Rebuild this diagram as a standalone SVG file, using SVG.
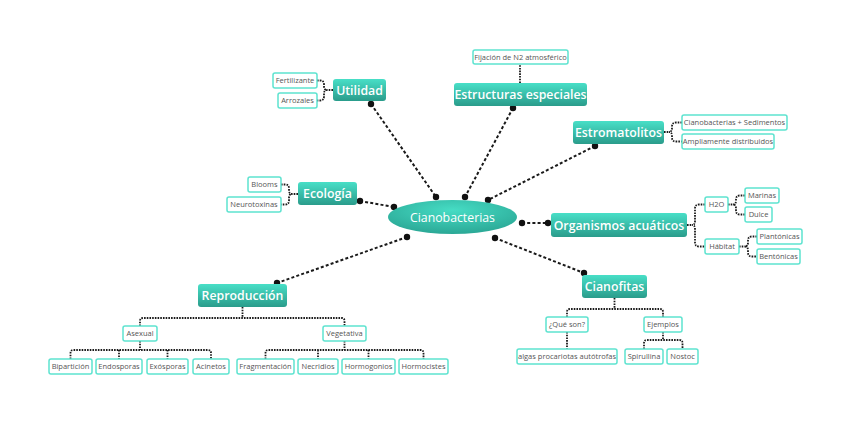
<svg xmlns="http://www.w3.org/2000/svg" width="848" height="424" viewBox="0 0 848 424">
<defs>
<linearGradient id="g" x1="0" y1="0" x2="0" y2="1">
<stop offset="0" stop-color="#48dfc7"/>
<stop offset="1" stop-color="#2a9c8b"/>
</linearGradient>
<radialGradient id="ge" cx="0.5" cy="0.3" r="0.7">
<stop offset="0" stop-color="#46dcc4"/>
<stop offset="1" stop-color="#2ba896"/>
</radialGradient>
</defs>
<style>
.m{fill:url(#g);}
.mt{font-family:"Open Sans","Noto Sans","Liberation Sans",sans-serif;font-size:12.3px;font-weight:600;fill:#fff;text-anchor:middle;}
.l{fill:#fff;stroke:#5ee3d0;stroke-width:1.5;}
.lt{font-family:"Open Sans","Noto Sans","Liberation Sans",sans-serif;font-size:7.5px;fill:#555;text-anchor:middle;}
.c{fill:none;stroke:#1a1a1a;stroke-width:2;stroke-dasharray:3 2.2;}
.t{fill:none;stroke:#1a1a1a;stroke-width:1.8;stroke-dasharray:1.6 1.1;}
.d{fill:#111;}
</style>
<rect width="848" height="424" fill="#fff"/>
<g id="connectors">
<path class="c" d="M371,104 L436,197"/>
<path class="c" d="M513,108 L465,197"/>
<path class="c" d="M595,146 L488,200"/>
<path class="c" d="M360,201 L394,207"/>
<path class="c" d="M522,223 L548,223"/>
<path class="c" d="M495,238 L584,273"/>
<path class="c" d="M407,237 L277,283"/>
<circle class="d" cx="371" cy="104" r="3.2"/><circle class="d" cx="436" cy="197" r="3.2"/>
<circle class="d" cx="513" cy="108" r="3.2"/><circle class="d" cx="465" cy="197" r="3.2"/>
<circle class="d" cx="595" cy="146" r="3.2"/><circle class="d" cx="488" cy="200" r="3.2"/>
<circle class="d" cx="360" cy="201" r="3.2"/><circle class="d" cx="394" cy="207" r="3.2"/>
<circle class="d" cx="522" cy="223" r="3.2"/><circle class="d" cx="548" cy="223" r="3.2"/>
<circle class="d" cx="495" cy="238" r="3.2"/><circle class="d" cx="584" cy="273" r="3.2"/>
<circle class="d" cx="407" cy="237" r="3.2"/><circle class="d" cx="277" cy="283" r="3.2"/>
<path class="t" d="M333,90 H327 M317,80.5 H320 Q324,80.5 324,84.5 V86 Q324,90 327,90 Q324,90 324,94 V96.5 Q324,100.5 320,100.5 H317"/>
<path class="t" d="M298,194 H292 M281,184.5 H285 Q289,184.5 289,188.5 V190 Q289,194 292,194 Q289,194 289,198 V200.5 Q289,204.5 285,204.5 H281"/>
<path class="t" d="M520,83 V64"/>
<path class="t" d="M664,132 H669 M682,122.5 H676 Q672,122.5 672,126.5 V128 Q672,132 669,132 Q672,132 672,136 V137.5 Q672,141.5 676,141.5 H682"/>
<path class="t" d="M687,225 H692 M705,204.5 H699 Q695,204.5 695,208.5 V221 Q695,225 692,225 Q695,225 695,229 V242.5 Q695,246.5 699,246.5 H705"/>
<path class="t" d="M728,204.5 H733 M745,195.5 H740 Q736,195.5 736,199.5 V200.5 Q736,204.5 733,204.5 Q736,204.5 736,208.5 V210.5 Q736,214.5 740,214.5 H745"/>
<path class="t" d="M739,246.5 H745 M757,236.5 H752 Q748,236.5 748,240.5 V242.5 Q748,246.5 745,246.5 Q748,246.5 748,250.5 V252.5 Q748,256.5 752,256.5 H757"/>
<path class="t" d="M614.5,298 V309 M567,317 V312 Q567,309 570,309 H660 Q663,309 663,312 V317"/>
<path class="t" d="M567,332 V349"/>
<path class="t" d="M663,332 V340 M644,349 V343 Q644,340 647,340 H679.5 Q682.5,340 682.5,343 V349"/>
<path class="t" d="M242.5,307 V318 M140,326 V321 Q140,318 143,318 H341.5 Q344.5,318 344.5,321 V326"/>
<path class="t" d="M140,341 V350 M70.5,359 V353 Q70.5,350 73.5,350 H208 Q211,350 211,353 V359 M119,350 V359 M167.5,350 V359"/>
<path class="t" d="M344.5,341 V350 M265.5,359 V353 Q265.5,350 268.5,350 H420.5 Q423.5,350 423.5,353 V359 M318,350 V359 M368.5,350 V359"/>
</g>
<g id="center">
<ellipse cx="452.5" cy="217" rx="64.5" ry="17" fill="url(#ge)"/>
<text class="mt" x="452.5" y="221.5" style="font-weight:500;font-size:12.3px">Cianobacterias</text>
</g>
<g id="utilidad"><rect class="m" x="333" y="79" width="53" height="22" rx="3"/><text class="mt" x="359.5" y="94.5">Utilidad</text></g>
<g id="estructuras"><rect class="m" x="454" y="83" width="133" height="23" rx="3"/><text class="mt" x="520.5" y="99">Estructuras especiales</text></g>
<g id="estromatolitos"><rect class="m" x="573" y="121" width="91" height="23" rx="3"/><text class="mt" x="618.5" y="137">Estromatolitos</text></g>
<g id="ecologia"><rect class="m" x="298" y="182" width="59" height="23" rx="3"/><text class="mt" x="327.5" y="198">Ecología</text></g>
<g id="organismos"><rect class="m" x="551" y="213" width="136" height="24" rx="3"/><text class="mt" x="619" y="229.5">Organismos acuáticos</text></g>
<g id="cianofitas"><rect class="m" x="582" y="275" width="65" height="23" rx="3"/><text class="mt" x="614.5" y="291">Cianofitas</text></g>
<g id="reproduccion"><rect class="m" x="198" y="284" width="89" height="23" rx="3"/><text class="mt" x="242.5" y="300">Reproducción</text></g>
<g id="fijacion"><rect class="l" x="473" y="50" width="95" height="14" rx="2"/><text class="lt" x="520.5" y="59.8">Fijación de N2 atmosférico</text></g>
<g id="fertilizante"><rect class="l" x="273" y="73" width="44" height="15" rx="2"/><text class="lt" x="295" y="83.3">Fertilizante</text></g>
<g id="arrozales"><rect class="l" x="278" y="93" width="39" height="15" rx="2"/><text class="lt" x="297.5" y="103.3">Arrozales</text></g>
<g id="blooms"><rect class="l" x="248" y="177" width="33" height="15" rx="2"/><text class="lt" x="264.5" y="187.3">Blooms</text></g>
<g id="neurotoxinas"><rect class="l" x="227" y="197" width="54" height="15" rx="2"/><text class="lt" x="254" y="207.3">Neurotoxinas</text></g>
<g id="sedimentos"><rect class="l" x="682" y="115" width="105" height="15" rx="2"/><text class="lt" x="734.5" y="125.3">Cianobacterias + Sedimentos</text></g>
<g id="distribuidos"><rect class="l" x="682" y="134" width="92" height="15" rx="2"/><text class="lt" x="728" y="144.3">Ampliamente distribuidos</text></g>
<g id="h2o"><rect class="l" x="705" y="197" width="23" height="15" rx="2"/><text class="lt" x="716.5" y="207.3">H2O</text></g>
<g id="marinas"><rect class="l" x="745" y="188" width="34" height="15" rx="2"/><text class="lt" x="762" y="198.3">Marinas</text></g>
<g id="dulce"><rect class="l" x="745" y="207" width="27" height="15" rx="2"/><text class="lt" x="758.5" y="217.3">Dulce</text></g>
<g id="habitat"><rect class="l" x="705" y="239" width="34" height="15" rx="2"/><text class="lt" x="722" y="249.3">Hábitat</text></g>
<g id="plantonicas"><rect class="l" x="757" y="229" width="45" height="15" rx="2"/><text class="lt" x="779.5" y="239.3">Plantónicas</text></g>
<g id="bentonicas"><rect class="l" x="757" y="249" width="43" height="15" rx="2"/><text class="lt" x="778.5" y="259.3">Bentónicas</text></g>
<g id="queson"><rect class="l" x="546" y="317" width="42" height="15" rx="2"/><text class="lt" x="567" y="327.3">¿Qué son?</text></g>
<g id="ejemplos"><rect class="l" x="644" y="317" width="38" height="15" rx="2"/><text class="lt" x="663" y="327.3">Ejemplos</text></g>
<g id="algas"><rect class="l" x="517" y="349" width="100" height="15" rx="2"/><text class="lt" x="567" y="359.3">algas procariotas autótrofas</text></g>
<g id="spirullina"><rect class="l" x="625" y="349" width="38" height="15" rx="2"/><text class="lt" x="644" y="359.3">Spirullina</text></g>
<g id="nostoc"><rect class="l" x="667" y="349" width="31" height="15" rx="2"/><text class="lt" x="682.5" y="359.3">Nostoc</text></g>
<g id="asexual"><rect class="l" x="123" y="326" width="34" height="15" rx="2"/><text class="lt" x="140" y="336.3">Asexual</text></g>
<g id="vegetativa"><rect class="l" x="323" y="326" width="43" height="15" rx="2"/><text class="lt" x="344.5" y="336.3">Vegetativa</text></g>
<g id="biparticion"><rect class="l" x="49" y="359" width="43" height="15" rx="2"/><text class="lt" x="70.5" y="369.3">Bipartición</text></g>
<g id="endosporas"><rect class="l" x="96" y="359" width="46" height="15" rx="2"/><text class="lt" x="119" y="369.3">Endosporas</text></g>
<g id="exosporas"><rect class="l" x="147" y="359" width="41" height="15" rx="2"/><text class="lt" x="167.5" y="369.3">Exósporas</text></g>
<g id="acinetos"><rect class="l" x="193" y="359" width="36" height="15" rx="2"/><text class="lt" x="211" y="369.3">Acinetos</text></g>
<g id="fragmentacion"><rect class="l" x="237" y="359" width="57" height="15" rx="2"/><text class="lt" x="265.5" y="369.3">Fragmentación</text></g>
<g id="necridios"><rect class="l" x="298" y="359" width="40" height="15" rx="2"/><text class="lt" x="318" y="369.3">Necridios</text></g>
<g id="hormogonios"><rect class="l" x="342" y="359" width="53" height="15" rx="2"/><text class="lt" x="368.5" y="369.3">Hormogonios</text></g>
<g id="hormocistes"><rect class="l" x="399" y="359" width="49" height="15" rx="2"/><text class="lt" x="423.5" y="369.3">Hormocistes</text></g>
</svg>
